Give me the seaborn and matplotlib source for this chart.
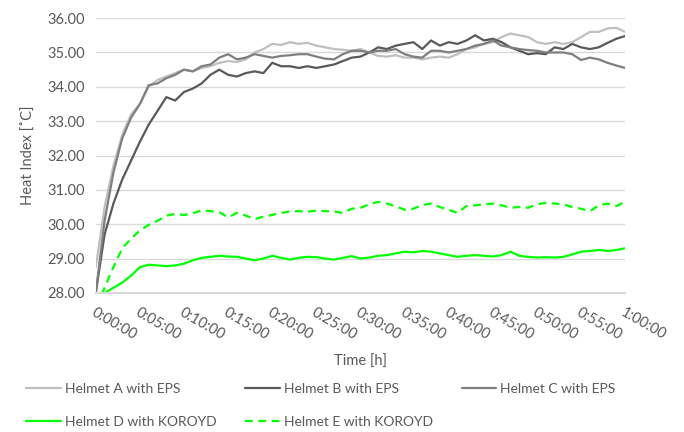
import matplotlib
matplotlib.use('Agg')
import matplotlib.pyplot as plt
import seaborn as sns

# time axis in minutes, one reading per minute
minutes = list(range(61))

helmet_a = [28.75, 30.5, 31.7, 32.6, 33.2, 33.5, 34.0, 34.2, 34.3, 34.4,
            34.5, 34.45, 34.55, 34.6, 34.7, 34.75, 34.72, 34.8, 35.0, 35.1,
            35.25, 35.22, 35.3, 35.25, 35.28, 35.2, 35.15, 35.1, 35.08, 35.05,
            35.1, 35.0, 34.9, 34.88, 34.92, 34.85, 34.85, 34.8, 34.85, 34.88,
            34.85, 34.95, 35.1, 35.15, 35.25, 35.3, 35.45, 35.55, 35.5, 35.45,
            35.3, 35.25, 35.3, 35.25, 35.3, 35.45, 35.6, 35.6, 35.7, 35.72,
            35.6]
helmet_b = [28.0, 29.7, 30.6, 31.3, 31.85, 32.4, 32.9, 33.3, 33.7, 33.6,
            33.85, 33.95, 34.1, 34.35, 34.5, 34.35, 34.3, 34.4, 34.45, 34.4,
            34.7, 34.6, 34.6, 34.55, 34.6, 34.55, 34.6, 34.65, 34.75, 34.85,
            34.88, 35.0, 35.15, 35.1, 35.2, 35.25, 35.3, 35.1, 35.35, 35.2,
            35.3, 35.25, 35.35, 35.5, 35.35, 35.4, 35.3, 35.15, 35.05, 34.95,
            34.98, 34.95, 35.15, 35.1, 35.25, 35.15, 35.1, 35.15, 35.28, 35.4,
            35.48]
helmet_c = [28.0, 30.1, 31.5, 32.5, 33.1, 33.5, 34.05, 34.1, 34.25, 34.35,
            34.5, 34.45, 34.6, 34.65, 34.85, 34.95, 34.8, 34.85, 34.95, 34.9,
            34.85, 34.9, 34.92, 34.95, 34.95, 34.88, 34.82, 34.8, 34.95, 35.05,
            35.05, 35.0, 35.05, 35.05, 35.1, 34.95, 34.88, 34.85, 35.05, 35.05,
            35.0, 35.05, 35.1, 35.2, 35.25, 35.35, 35.2, 35.15, 35.1, 35.07,
            35.05, 35.0, 35.0, 35.0, 34.95, 34.78, 34.85, 34.8, 34.7, 34.62,
            34.55]
helmet_d = [27.95, 28.0, 28.15, 28.3, 28.5, 28.75, 28.82, 28.8, 28.78, 28.8,
            28.85, 28.95, 29.02, 29.05, 29.08, 29.06, 29.05, 29.0, 28.95, 29.0,
            29.08, 29.02, 28.97, 29.02, 29.05, 29.04, 29.0, 28.97, 29.02, 29.07,
            29.0, 29.03, 29.08, 29.1, 29.15, 29.2, 29.18, 29.22, 29.2, 29.15,
            29.1, 29.05, 29.08, 29.1, 29.08, 29.06, 29.1, 29.2, 29.08, 29.05,
            29.03, 29.04, 29.03, 29.05, 29.12, 29.2, 29.22, 29.25, 29.22, 29.25,
            29.3]
helmet_e = [27.6, 28.15, 28.75, 29.3, 29.58, 29.82, 29.98, 30.1, 30.25, 30.3,
            30.27, 30.32, 30.4, 30.38, 30.35, 30.2, 30.33, 30.25, 30.15, 30.22,
            30.27, 30.33, 30.37, 30.38, 30.36, 30.4, 30.38, 30.37, 30.33, 30.45,
            30.48, 30.58, 30.65, 30.6, 30.52, 30.42, 30.45, 30.56, 30.6, 30.5,
            30.42, 30.33, 30.53, 30.55, 30.58, 30.6, 30.55, 30.48, 30.5, 30.48,
            30.58, 30.62, 30.6, 30.58, 30.5, 30.45, 30.38, 30.55, 30.6, 30.53,
            30.65]

tick_minutes = list(range(0, 61, 5))
tick_labels = ['0:00:00', '0:05:00', '0:10:00', '0:15:00', '0:20:00', '0:25:00',
               '0:30:00', '0:35:00', '0:40:00', '0:45:00', '0:50:00', '0:55:00',
               '1:00:00']

sns.set_theme(style='white')
plt.rcParams['font.family'] = ['Lato', 'DejaVu Sans']
text_color = '#595959'
grid_color = '#D9D9D9'

fig = plt.figure(figsize=(6.84, 4.32), dpi=100)
ax = fig.add_axes([0.140, 0.322, 0.774, 0.636])

series = [
    ('Helmet A with EPS', helmet_a, '#BFBFBF', '-'),
    ('Helmet B with EPS', helmet_b, '#595959', '-'),
    ('Helmet C with EPS', helmet_c, '#7F7F7F', '-'),
    ('Helmet D with KOROYD', helmet_d, '#00FF00', '-'),
    ('Helmet E with KOROYD', helmet_e, '#00FF00', (0, (3.5, 2.5))),
]
for name, vals, color, ls in series:
    sns.lineplot(x=minutes, y=vals, ax=ax, color=color, linestyle=ls,
                 linewidth=1.6, label=name)

ax.set_xlim(0, 60)
ax.set_ylim(28, 36)
ax.set_yticks(range(28, 37))
ax.set_yticklabels([f'{v:.2f}' for v in range(28, 37)])
ax.set_xticks(tick_minutes)
ax.set_xticklabels(tick_labels, rotation=-30, ha='left', rotation_mode='anchor')
ax.tick_params(axis='x', length=0, pad=9, labelsize=10.5, colors=text_color)
ax.tick_params(axis='y', length=0, pad=8, labelsize=10.5, colors=text_color)
ax.grid(axis='y', color=grid_color, linewidth=1)
ax.set_axisbelow(True)
for s in ['top', 'right', 'left']:
    ax.spines[s].set_visible(False)
ax.spines['bottom'].set_color(grid_color)
ax.spines['bottom'].set_linewidth(1.5)

ax.set_xlabel('Time [h]', fontsize=10.5, color=text_color, labelpad=9)
ax.set_ylabel('Heat Index [˚C]', fontsize=10.5, color=text_color, labelpad=8)

# legend laid out row by row: A B C / D E
handles, labels = ax.get_legend_handles_labels()
order = [0, 3, 1, 4, 2]
ax.legend_.remove()
fig.legend([handles[i] for i in order], [labels[i] for i in order],
           ncol=3, loc='lower left', bbox_to_anchor=(0.02, -0.02),
           frameon=False, fontsize=10, labelcolor=text_color,
           handlelength=2.5, handletextpad=0.3, columnspacing=2.05,
           labelspacing=1.5)

fig.savefig('out.png', dpi=100)
